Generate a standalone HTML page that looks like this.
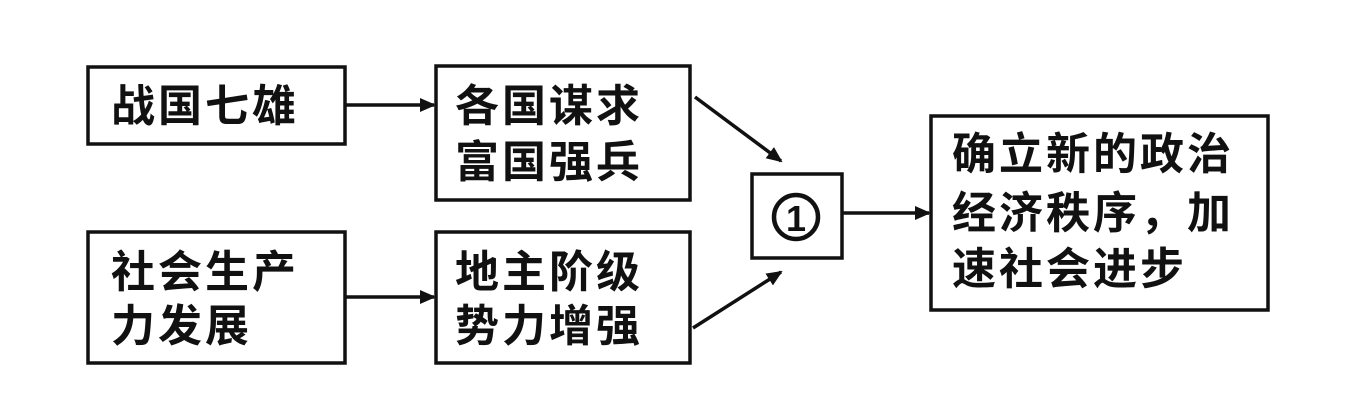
<!DOCTYPE html>
<html><head><meta charset="utf-8"><style>
html,body{margin:0;padding:0;background:#fff;}
svg{display:block}
text{font-family:"Liberation Sans","Noto Sans CJK SC","WenQuanYi Zen Hei",sans-serif;font-size:44px;fill:#111;font-weight:bold;letter-spacing:3px}
</style></head><body>
<svg width="1368" height="420" viewBox="0 0 1368 420">
<defs><marker id="a" markerWidth="10" markerHeight="10" refX="8" refY="5" orient="auto" markerUnits="userSpaceOnUse">
<path d="M0,0 L10,5 L0,10 Z" fill="#111"/></marker>
<marker id="b" markerWidth="16" markerHeight="14" refX="14" refY="7" orient="auto" markerUnits="userSpaceOnUse">
<path d="M0,0 L16,7 L0,14 Z" fill="#111"/></marker></defs>
<g fill="none" stroke="#111" stroke-width="3.5">
<rect x="88" y="67" width="257" height="77"/>
<rect x="436" y="66" width="254" height="134"/>
<rect x="88" y="232" width="257" height="131"/>
<rect x="436" y="232" width="254" height="131"/>
<rect x="752" y="174" width="90" height="84"/>
<rect x="931" y="116" width="337" height="194"/>
<line x1="345" y1="105" x2="434" y2="105" marker-end="url(#b)"/>
<line x1="345" y1="297" x2="434" y2="297" marker-end="url(#b)"/>
<line x1="695" y1="97" x2="781" y2="161" marker-end="url(#b)"/>
<line x1="693" y1="328" x2="781" y2="272" marker-end="url(#b)"/>
<line x1="842" y1="213" x2="929" y2="213" marker-end="url(#b)"/>
<circle cx="796" cy="217" r="22" stroke-width="4.5"/>
</g>
<text x="796" y="231" text-anchor="middle" style="font-size:36px;letter-spacing:0">1</text>
<text x="111" y="121">战国七雄</text>
<text x="455" y="121">各国谋求</text>
<text x="455" y="177">富国强兵</text>
<text x="111" y="287">社会生产</text>
<text x="111" y="341">力发展</text>
<text x="455" y="287">地主阶级</text>
<text x="455" y="341">势力增强</text>
<text x="952" y="169">确立新的政治</text>
<text x="952" y="228">经济秩序，加</text>
<text x="952" y="284">速社会进步</text>
</svg>
</body></html>
